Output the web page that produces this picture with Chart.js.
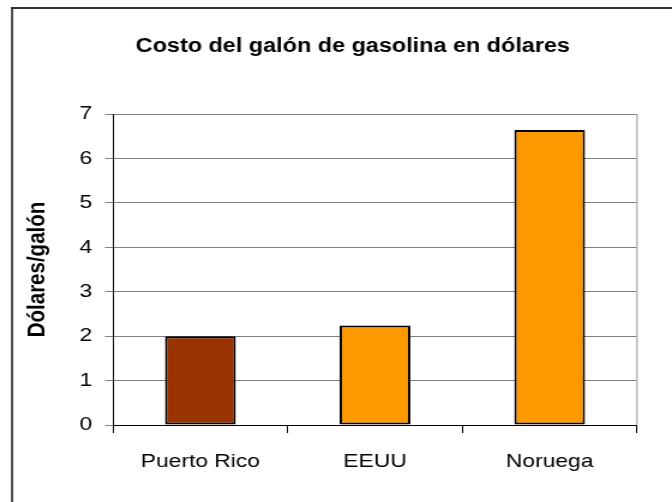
<!DOCTYPE html>
<html>
<head>
<meta charset="utf-8">
<script src="https://cdn.jsdelivr.net/npm/chart.js@4/dist/chart.umd.min.js"></script>
<style>
  html, body { margin: 0; padding: 0; background: #fff; overflow: hidden; }
  #wrap { width: 672px; height: 502px; }
  /* el original está estirado en horizontal */
  #grafica { transform: scaleX(1.2); transform-origin: 0 0; }
</style>
</head>
<body>
<div id="wrap"><canvas id="grafica" width="560" height="502"></canvas></div>
<script>
const paises = ['Puerto Rico', 'EEUU', 'Noruega'];
const costos = [2.0, 2.24, 6.64];
const colores = ['#993300', '#FF9900', '#FF9900'];
const titulo = 'Costo del galón de gasolina en dólares';
const tituloY = 'Dólares/galón';

const FUENTE = "'Liberation Sans', Arial, sans-serif";
Chart.defaults.font.family = FUENTE;
Chart.defaults.color = '#000';

// marco exterior y borde derecho del área del gráfico
const marco = {
    id: 'marco',
    beforeDraw(chart) {
        const ctx = chart.ctx;
        ctx.save();
        ctx.fillStyle = '#fff';
        ctx.fillRect(0, 0, chart.width, chart.height);
        ctx.fillStyle = '#333';
        ctx.fillRect(9.2, 7, chart.width, 2);
        ctx.fillRect(9.2, 7, 1.7, chart.height);
        ctx.restore();
    },
    afterDatasetsDraw(chart) {
        const a = chart.chartArea;
        const ctx = chart.ctx;
        ctx.save();
        ctx.strokeStyle = '#999';
        ctx.lineWidth = 1;
        ctx.beginPath();
        ctx.moveTo(a.right, a.top);
        ctx.lineTo(a.right, a.bottom);
        ctx.stroke();
        ctx.restore();
    }
};

const grafica = document.getElementById('grafica');
new Chart(grafica, {
    type: 'bar',
    data: {
        labels: paises,
        datasets: [{
            data: costos,
            backgroundColor: colores,
            borderColor: '#000',
            borderWidth: 2,
            borderSkipped: false,
            barPercentage: 0.405,
            categoryPercentage: 1
        }]
    },
    options: {
        responsive: false,
        animation: false,
        layout: { padding: { left: 57.2, right: 29.2, top: 0, bottom: 0 } },
        plugins: {
            legend: { display: false },
            tooltip: { enabled: false },
            title: {
                display: true,
                text: titulo,
                color: '#000',
                font: { size: 19.5, weight: 'bold', family: FUENTE },
                padding: { top: 35, bottom: 55.6 }
            }
        },
        scales: {
            x: {
                grid: {
                    offset: true,
                    drawOnChartArea: false,
                    color: '#000',
                    tickLength: 8
                },
                border: { color: '#000', width: 1 },
                ticks: { font: { size: 19 }, padding: 17, color: '#000' },
                afterFit(scale) { scale.height = 77; }
            },
            y: {
                min: 0,
                max: 7,
                ticks: { stepSize: 1, font: { size: 19 }, padding: 10.8, color: '#000' },
                grid: { color: '#808080', lineWidth: 1, tickLength: 6.7 },
                border: { color: '#000', width: 1 },
                title: {
                    display: true,
                    text: tituloY,
                    color: '#000',
                    font: { size: 20.5, weight: 'bold', family: FUENTE },
                    padding: { top: -38.3, bottom: 0 }
                },
                afterFit(scale) { scale.width = 37; }
            }
        }
    },
    plugins: [marco]
});
</script>
</body>
</html>
